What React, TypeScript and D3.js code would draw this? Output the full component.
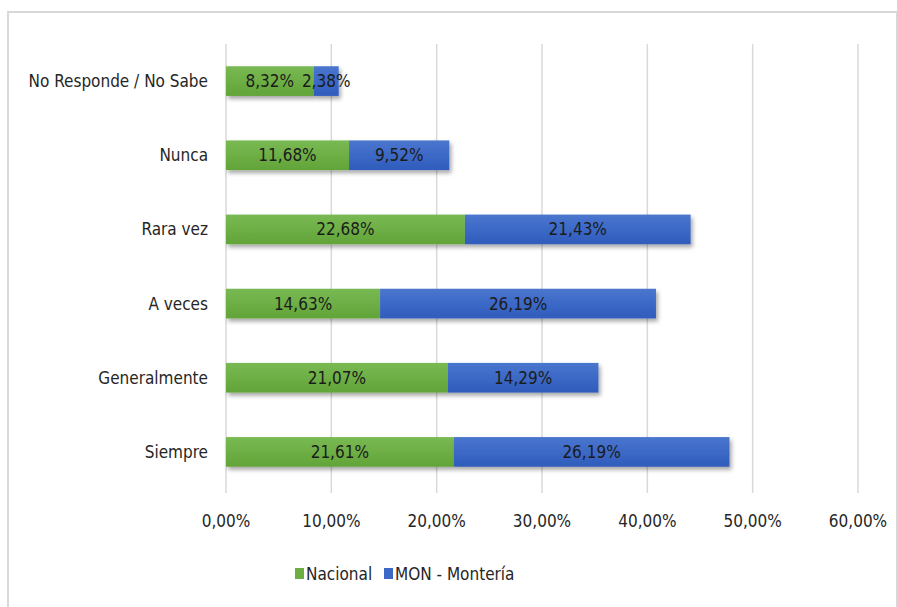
import * as d3 from "d3";

// categories, top to bottom
const categories = ["No Responde / No Sabe", "Nunca", "Rara vez", "A veces", "Generalmente", "Siempre"];
const nacional = [8.32, 11.68, 22.68, 14.63, 21.07, 21.61];
const monteria = [2.38, 9.52, 21.43, 26.19, 14.29, 26.19];
const seriesNames = ["Nacional", "MON - Montería"];
const xTicks = [0, 10, 20, 30, 40, 50, 60];

const width = 897;
const height = 607;
const FONT = "'Liberation Sans Narrow', 'DejaVu Sans Condensed', 'Open Sans', sans-serif";
const colors = ["#6cae42", "#3c68c6"];

const fmt = (v: number) => v.toFixed(2).replace(".", ",") + "%";

function App() {
    const margin = { left: 226, right: 39, top: 44, bottom: 118 };

    const x = d3.scaleLinear().domain([0, 60]).range([margin.left, width - margin.right]);
    const y = d3.scaleBand()
        .domain(categories)
        .range([margin.top, height - margin.bottom])
        .paddingInner(0.6)
        .paddingOuter(0.3);

    const rows = categories.map((c, i) => ({ cat: c, vals: [nacional[i], monteria[i]] }));

    return (
        <svg width={width} height={height} style={{ position: "absolute", left: 0, top: 0 }} fontFamily={FONT}>
            <defs>
                <filter id="shadow" x="-5%" y="-30%" width="115%" height="180%">
                    <feDropShadow dx="2" dy="3" stdDeviation="2" floodColor="#000" floodOpacity="0.35" />
                </filter>
                <linearGradient id="gGreen" x1="0" y1="0" x2="0" y2="1">
                    <stop offset="0" stopColor="#79b953" />
                    <stop offset="1" stopColor="#62a438" />
                </linearGradient>
                <linearGradient id="gBlue" x1="0" y1="0" x2="0" y2="1">
                    <stop offset="0" stopColor="#4a76cf" />
                    <stop offset="1" stopColor="#2f5cbc" />
                </linearGradient>
            </defs>
            <rect x={0} y={0} width={width} height={height} fill="#fff" />
            <rect x={8} y={12} width={width - 8} height={height - 10} fill="none" stroke="#d9d9d9" strokeWidth={2} />

            {/* gridlines */}
            {xTicks.map((t) => (
                <line key={t} x1={x(t)} x2={x(t)} y1={margin.top} y2={height - margin.bottom + 4}
                    stroke="#d9d9d9" strokeWidth={1.5} />
            ))}

            {/* bars */}
            {rows.map((r) => {
                const by = y(r.cat)!;
                const bh = y.bandwidth();
                let acc = 0;
                return (
                    <g key={r.cat}>
                        <g filter="url(#shadow)">
                            {r.vals.map((v, j) => {
                                const x0 = x(acc);
                                acc += v;
                                return (
                                    <rect key={j} x={x0} y={by} width={x(acc) - x0} height={bh}
                                        fill={j === 0 ? "url(#gGreen)" : "url(#gBlue)"} />
                                );
                            })}
                        </g>
                        {(() => {
                            let a = 0;
                            return r.vals.map((v, j) => {
                                const cx = x(a + v / 2);
                                a += v;
                                return (
                                    <text key={j} x={cx} y={by + bh / 2} dy="0.35em" textAnchor="middle"
                                        fontSize={17} fill="#1b1b1b">{fmt(v)}</text>
                                );
                            });
                        })()}
                        <text x={208} y={by + bh / 2} dy="0.35em" textAnchor="end" fontSize={17} fill="#262626">
                            {r.cat}
                        </text>
                    </g>
                );
            })}

            {/* x tick labels */}
            {xTicks.map((t) => (
                <text key={t} x={x(t)} y={521} dy="0.35em" textAnchor="middle" fontSize={17} fill="#262626">
                    {fmt(t)}
                </text>
            ))}

            {/* legend */}
            <g>
                <rect x={295} y={568} width={9} height={11} fill={colors[0]} />
                <text x={306} y={574} dy="0.35em" fontSize={17} fill="#262626">{seriesNames[0]}</text>
                <rect x={384} y={568} width={9} height={11} fill={colors[1]} />
                <text x={395} y={574} dy="0.35em" fontSize={17} fill="#262626">{seriesNames[1]}</text>
            </g>
        </svg>
    );
}

export default App;
